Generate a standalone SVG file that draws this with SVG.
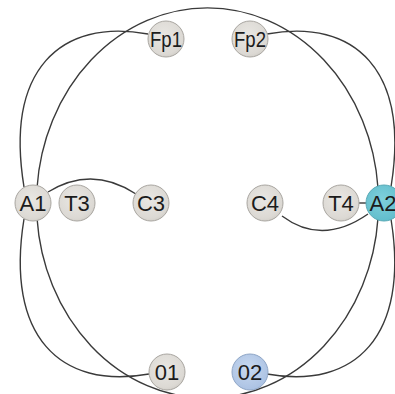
<svg xmlns="http://www.w3.org/2000/svg" width="395" height="394" viewBox="0 0 395 394">
  <defs>
    <radialGradient id="gGray" cx="0.45" cy="0.4" r="0.65">
      <stop offset="0" stop-color="#e9e7e3"/>
      <stop offset="0.8" stop-color="#dcd9d4"/>
      <stop offset="1" stop-color="#cfccc6"/>
    </radialGradient>
    <radialGradient id="gTeal" cx="0.45" cy="0.4" r="0.65">
      <stop offset="0" stop-color="#7fd0dc"/>
      <stop offset="1" stop-color="#5fbccb"/>
    </radialGradient>
    <radialGradient id="gBlue" cx="0.45" cy="0.4" r="0.65">
      <stop offset="0" stop-color="#c8d9f0"/>
      <stop offset="1" stop-color="#a9c0e2"/>
    </radialGradient>
  </defs>
  <style>
    .edge { fill: none; stroke: #3a3a3a; stroke-width: 1.4; }
    .node circle { stroke: #a9a6a1; stroke-width: 1; }
    .gray circle { fill: url(#gGray); }
    .teal circle { fill: url(#gTeal); stroke: #5aaab6; }
    .blue circle { fill: url(#gBlue); stroke: #8fa6c6; }
    .node text { font-family: "Liberation Sans", Arial, sans-serif; font-size: 22px; fill: #1c1c1c; text-anchor: middle; }
  </style>
  <rect width="395" height="394" fill="#ffffff"/>
  <g id="connectors">
    <path class="edge" d="M37,188 A171,195 0 0 1 378,188"/>
    <path class="edge" d="M37,218 A171,195 0 0 0 378,218"/>
    <path class="edge" d="M148,34 C60,18 5,70 24,187"/>
    <path class="edge" d="M267,34 C355,18 410,70 391,187"/>
    <path class="edge" d="M149,374 C60,390 5,336 24,219"/>
    <path class="edge" d="M267,374 C355,390 410,336 391,219"/>
    <path class="edge" d="M48,192 Q92,165 136,194"/>
    <path class="edge" d="M282,216 Q322,246 368,214"/>
    <path class="edge" d="M358,203 L367,203"/>
  </g>
  <g id="Fp1" class="node gray"><circle cx="166" cy="39" r="18"/><text x="166" y="47" textLength="32" lengthAdjust="spacingAndGlyphs">Fp1</text></g>
  <g id="Fp2" class="node gray"><circle cx="250" cy="39" r="18"/><text x="250" y="47" textLength="32" lengthAdjust="spacingAndGlyphs">Fp2</text></g>
  <g id="A1" class="node gray"><circle cx="33" cy="203" r="18"/><text x="33" y="211">A1</text></g>
  <g id="T3" class="node gray"><circle cx="77" cy="203" r="18"/><text x="77" y="211">T3</text></g>
  <g id="C3" class="node gray"><circle cx="151" cy="203" r="18"/><text x="151" y="211">C3</text></g>
  <g id="C4" class="node gray"><circle cx="265" cy="203" r="18"/><text x="265" y="211">C4</text></g>
  <g id="T4" class="node gray"><circle cx="341" cy="203" r="18"/><text x="341" y="211">T4</text></g>
  <g id="A2" class="node teal"><circle cx="384" cy="203" r="18"/><text x="383" y="211">A2</text></g>
  <g id="O1" class="node gray"><circle cx="167" cy="372" r="18"/><text x="167" y="380">01</text></g>
  <g id="O2" class="node blue"><circle cx="250" cy="372" r="18"/><text x="250" y="380">02</text></g>
</svg>
